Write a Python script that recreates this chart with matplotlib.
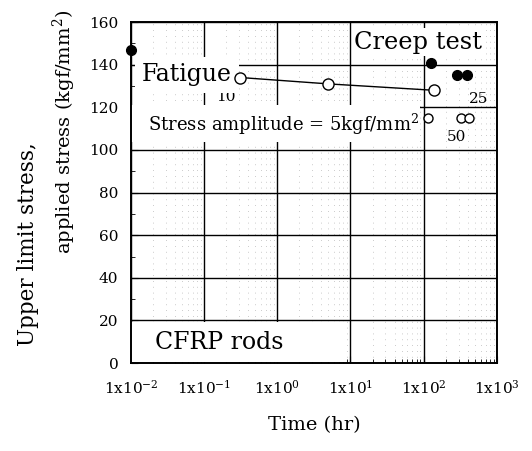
import numpy as np
import matplotlib.pyplot as plt
from matplotlib.patches import Rectangle
from matplotlib.ticker import LogLocator, MultipleLocator

plt.rcParams['font.family'] = ['DejaVu Serif']
plt.rcParams['mathtext.fontset'] = 'dejavuserif'

# creep test (filled)
creep_time = [0.01, 125, 282, 390]
creep_stress = [147, 141, 135, 135]

# fatigue, amplitude 10 (open, connected)
fat10_time = [0.31, 5.0, 138]
fat10_stress = [134, 131, 128]

# fatigue, amplitude 25 / 50 (open)
fat50_time = [115, 320, 420]
fat50_stress = [115, 115, 115]

xticks = [1e-2, 1e-1, 1e0, 1e1, 1e2, 1e3]
xlabels = [r'1x10$^{-2}$', r'1x10$^{-1}$', r'1x10$^{0}$',
           r'1x10$^{1}$', r'1x10$^{2}$', r'1x10$^{3}$']

fig = plt.figure(figsize=(5.32, 4.51), dpi=100)
ax = fig.add_axes([0.246, 0.195, 0.688, 0.756])
ax.set_xscale('log')
ax.set_xlim(1e-2, 1e3)
ax.set_ylim(0, 160)

ax.grid(True, which='major', color='black', lw=1.0)
ax.xaxis.set_minor_locator(LogLocator(base=10, subs=np.arange(2, 10)))
ax.grid(True, which='minor', axis='x', color='gray', lw=0.6,
        linestyle=(0, (1, 6)), alpha=0.55)
ax.set_axisbelow(True)

ax.plot(creep_time, creep_stress, 'o', color='black', ms=7, clip_on=False, zorder=5)
ax.plot(fat10_time, fat10_stress, '-o', color='black', mfc='white', ms=8,
        lw=1.0, zorder=5)
ax.plot(fat50_time, fat50_stress, 'o', color='black', mfc='white', ms=6.5, zorder=5)

ax.set_xticks(xticks)
ax.set_xticklabels(xlabels)
ax.yaxis.set_major_locator(MultipleLocator(20))
ax.yaxis.set_minor_locator(MultipleLocator(10))
ax.tick_params(which='both', direction='in', labelsize=11)
ax.tick_params(axis='x', which='major', pad=11, length=5)
ax.tick_params(axis='x', which='minor', length=3)
ax.tick_params(axis='y', which='major', length=5, pad=9)
ax.tick_params(axis='y', which='minor', length=3)
for s in ax.spines.values():
    s.set_linewidth(1.4)

# white areas behind the labels, hiding grid lines as in the original
ax.add_patch(Rectangle((0, 0.648), 0.79, 0.11, transform=ax.transAxes,
                       facecolor='white', edgecolor='none', zorder=1))
ax.add_patch(Rectangle((0, 0.003), 0.585, 0.117, transform=ax.transAxes,
                       facecolor='white', edgecolor='none', zorder=1))

ax.text(0.96, 0.975, 'Creep test', transform=ax.transAxes, ha='right', va='top',
        fontsize=17.4, bbox=dict(facecolor='white', edgecolor='none', pad=2), zorder=4)
ax.text(0.03, 0.845, 'Fatigue', transform=ax.transAxes, ha='left', va='center',
        fontsize=17, bbox=dict(facecolor='white', edgecolor='none', pad=5), zorder=4)
ax.text(0.046, 0.70, r'Stress amplitude = 5kgf/mm$^2$', transform=ax.transAxes,
        ha='left', va='center', fontsize=13, zorder=4)
ax.text(0.066, 0.06, 'CFRP rods', transform=ax.transAxes, ha='left', va='center',
        fontsize=17, zorder=4)
ax.text(0.2, 125, '10', fontsize=11, ha='center', va='center')
ax.text(560, 124, '25', fontsize=11, ha='center', va='center')
ax.text(280, 106, '50', fontsize=11, ha='center', va='center')

ax.set_xlabel('Time (hr)', fontsize=14, labelpad=14)
fig.text(28 / 532, 1 - 244 / 451, 'Upper limit stress,', rotation=90,
         ha='center', va='center', fontsize=15.5)
fig.text(64 / 532, 1 - 132 / 451, 'applied stress (kgf/mm$^2$)', rotation=90,
         ha='center', va='center', fontsize=14)

fig.savefig('out.png', dpi=100)
